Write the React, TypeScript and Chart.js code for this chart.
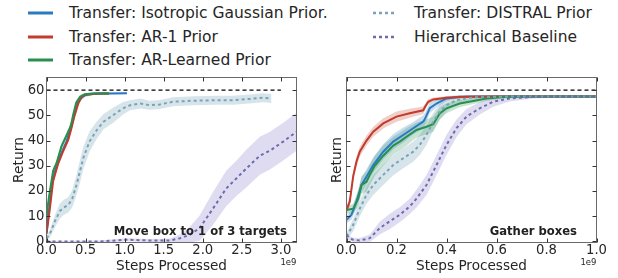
import React, { useEffect, useRef } from 'react';
import { Chart, registerables } from 'chart.js';

Chart.register(...registerables);

const FONT = 'DejaVu Sans';
const TEXT = '#262626';

// ---------- Series names ----------
const SERIES_NAMES = [
  'Transfer: Isotropic Gaussian Prior.',
  'Transfer: AR-1 Prior',
  'Transfer: AR-Learned Prior',
  'Transfer: DISTRAL Prior',
  'Hierarchical Baseline',
];
const TARGET_RETURN = 60;

// ---------- Left panel: Move box to 1 of 3 targets (steps in 1e9) ----------
const moveIsoX = [0, 0.034, 0.077, 0.128, 0.19, 0.256, 0.3, 0.34, 0.38, 0.43, 0.49, 0.6, 0.8, 1.03];
const moveIsoY = [3.3, 13, 24, 30, 35, 39.6, 44, 48.5, 53.5, 56.5, 58, 58.6, 58.7, 58.8];
const moveIsoSd = [1, 1.2, 1.2, 1.2, 1.2, 1.2, 1.2, 1.2, 1.2, 1, 0.8, 0.5, 0.4, 0.4];

const moveAr1X = [0, 0.013, 0.043, 0.085, 0.15, 0.21, 0.28, 0.32, 0.36, 0.41, 0.45, 0.51, 0.68, 0.8];
const moveAr1Y = [3, 6, 13, 24, 31, 35.6, 40.5, 45, 50, 55, 57.4, 58.3, 58.7, 58.7];
const moveAr1Sd = [1, 1.2, 1.2, 1.2, 1.2, 1.2, 1.2, 1.2, 1.2, 1, 0.8, 0.5, 0.4, 0.4];

const moveLrnX = [0, 0.02, 0.043, 0.085, 0.128, 0.19, 0.256, 0.3, 0.32, 0.34, 0.38, 0.43, 0.49, 0.6, 0.8];
const moveLrnY = [9, 15, 20, 28, 31, 37.6, 42, 45, 47, 50, 55, 57.4, 58.4, 58.7, 58.7];
const moveLrnSd = [1, 1.2, 1.2, 1.2, 1.2, 1.2, 1.2, 1.2, 1.2, 1.2, 1, 0.8, 0.5, 0.4, 0.4];

const moveDisX = [0, 0.043, 0.107, 0.17, 0.22, 0.28, 0.33, 0.38, 0.43, 0.47, 0.55, 0.64, 0.73, 0.85, 0.98, 1.07, 1.2, 1.32, 1.45, 1.62, 1.88, 2.18, 2.39, 2.6, 2.77, 2.88];
const moveDisY = [1.3, 3, 8, 12, 13.5, 14.5, 17, 22, 28, 33, 39.6, 44, 47.5, 50, 52.8, 54, 54.7, 54, 54.3, 55.4, 55.8, 56, 56, 56.5, 57, 56.7];
const moveDisSd = [1, 1.5, 2.5, 3, 3, 3, 3.5, 4, 4.5, 4.5, 4, 3.5, 3, 3, 2.5, 2, 2, 1.8, 1.8, 1.8, 1.8, 1.8, 1.8, 1.8, 1.8, 1.8];

const moveHieX = [0, 0.35, 0.68, 1.02, 1.32, 1.58, 1.71, 1.83, 1.96, 2.13, 2.3, 2.43, 2.56, 2.73, 2.86, 3.03, 3.2];
const moveHieY = [0, 0, 0, 0.7, 0.4, 0.4, 1.3, 2.6, 5.3, 13, 21, 25, 29, 34, 36, 39.6, 43.5];
const moveHieSd = [0.3, 0.3, 0.4, 0.6, 0.6, 0.8, 1.5, 3, 5, 6.5, 7, 7, 7.5, 7.5, 7.5, 7.5, 7.5];

// ---------- Right panel: Gather boxes (steps in 1e9) ----------
const gathIsoX = [0, 0.02, 0.04, 0.06, 0.08, 0.107, 0.147, 0.187, 0.227, 0.267, 0.307, 0.315, 0.333, 0.36, 0.4, 0.45, 0.6, 0.8, 1.0];
const gathIsoY = [8.6, 10.6, 15.8, 22.4, 25.7, 30.3, 35.6, 39.6, 42.2, 44.9, 47.5, 48.8, 52.8, 54.7, 56.7, 57.4, 57.5, 57.5, 57.5];
const gathIsoSd = [1.5, 2, 2.5, 3, 3, 3, 3, 3, 3, 2.5, 2.5, 2.5, 2, 1.5, 1, 0.6, 0.4, 0.3, 0.3];

const gathAr1X = [0, 0.013, 0.027, 0.04, 0.053, 0.08, 0.107, 0.147, 0.2, 0.253, 0.307, 0.315, 0.327, 0.347, 0.4, 0.48, 0.6, 0.8, 1.0];
const gathAr1Y = [12.5, 15.8, 26, 31.7, 35.6, 40, 43.5, 46.8, 49.5, 50.8, 52, 53.5, 55.4, 56.3, 57, 57.4, 57.5, 57.5, 57.5];
const gathAr1Sd = [1.5, 2, 2, 2, 2, 2, 2, 2, 2, 1.8, 1.5, 1.2, 1, 0.8, 0.6, 0.5, 0.4, 0.3, 0.3];

const gathLrnX = [0, 0.027, 0.047, 0.06, 0.08, 0.093, 0.113, 0.147, 0.187, 0.213, 0.24, 0.28, 0.32, 0.347, 0.373, 0.4, 0.453, 0.507, 0.56, 0.64, 0.8, 1.0];
const gathLrnY = [12.5, 13, 17, 22.4, 23.7, 26.4, 30, 34, 38, 39.6, 41.5, 44.2, 45.5, 46.5, 50.8, 52.8, 54.7, 55.7, 56.7, 57.4, 57.5, 57.5];
const gathLrnSd = [1.5, 2, 3, 3.5, 4, 4, 4, 4, 3.5, 3.5, 3.5, 3, 3, 3, 2.5, 2, 1.5, 1.2, 1, 0.6, 0.4, 0.3];

const gathDisX = [0, 0.027, 0.053, 0.08, 0.107, 0.147, 0.187, 0.227, 0.267, 0.293, 0.32, 0.347, 0.373, 0.4, 0.44, 0.507, 0.6, 0.8, 1.0];
const gathDisY = [2, 6.6, 13, 18.5, 22.4, 26.4, 30.3, 33, 35.6, 38.3, 42.2, 47.5, 51.5, 54, 56, 57.1, 57.4, 57.5, 57.5];
const gathDisSd = [1.5, 2.5, 3, 3.5, 4, 4, 4, 4, 4, 4, 4, 3.5, 3, 2.5, 1.5, 1, 0.6, 0.4, 0.3];

const gathHieX = [0, 0.013, 0.027, 0.053, 0.093, 0.133, 0.173, 0.213, 0.253, 0.28, 0.32, 0.36, 0.4, 0.44, 0.48, 0.533, 0.587, 0.653, 0.747, 0.85, 1.0];
const gathHieY = [2.6, 1.2, 0.7, 0.4, 1.3, 5.3, 8, 10.6, 13.9, 17, 22.4, 30.3, 38.3, 44.9, 49.5, 52.8, 55.4, 56.7, 57.3, 57.5, 57.5];
const gathHieSd = [1, 1, 0.8, 1, 1.5, 2.5, 3, 3, 3, 3.5, 4, 4, 4, 3.5, 3, 2.5, 2, 1.2, 0.6, 0.4, 0.3];

// ---------- Styles ----------
const LINE_COLORS = ['#2a7abf', '#c23b2b', '#27904f', '#7aa3b8', '#6c6cad'];
const BAND_COLORS = [
  'rgba(42,122,191,0.25)',
  'rgba(194,59,43,0.25)',
  'rgba(39,144,79,0.25)',
  'rgba(130,175,192,0.32)',
  'rgba(140,130,210,0.28)',
];
const DOTTED = [false, false, false, true, true];

type Pt = { x: number; y: number };
const pts = (xs: number[], ys: number[], off: number[] | null, sign: number): Pt[] =>
  xs.map((x, i) => ({ x, y: ys[i] + (off ? sign * off[i] : 0) }));

function buildDatasets(series: [number[], number[], number[]][], targetEnd: number) {
  const ds: any[] = [];
  ds.push({
    data: [{ x: 0, y: TARGET_RETURN }, { x: targetEnd, y: TARGET_RETURN }],
    borderColor: '#000',
    borderWidth: 1.2,
    borderDash: [4, 3],
    pointRadius: 0,
    fill: false,
    order: 0,
  });
  series.forEach(([xs, ys], i) => {
    ds.push({
      data: pts(xs, ys, null, 0),
      borderColor: LINE_COLORS[i],
      borderWidth: 2,
      borderDash: DOTTED[i] ? [3, 3] : undefined,
      pointRadius: 0,
      fill: false,
      tension: 0,
      order: 1 + (4 - i) * 0.1,
    });
  });
  series.forEach(([xs, ys, sd], i) => {
    ds.push({
      data: pts(xs, ys, sd, 1),
      borderWidth: 0,
      borderColor: 'rgba(0,0,0,0)',
      backgroundColor: BAND_COLORS[i],
      pointRadius: 0,
      fill: '+1',
      order: 10,
    });
    ds.push({
      data: pts(xs, ys, sd, -1),
      borderWidth: 0,
      borderColor: 'rgba(0,0,0,0)',
      pointRadius: 0,
      fill: false,
      order: 10,
    });
  });
  return ds;
}

const framePlugin = {
  id: 'frame',
  afterDatasetsDraw(chart: any, _args: any, opts: any) {
    const { ctx, chartArea: a, scales } = chart;
    ctx.save();
    ctx.strokeStyle = '#6a6a6a';
    ctx.lineWidth = 1;
    ctx.strokeRect(a.left, a.top, a.right - a.left, a.bottom - a.top);
    ctx.strokeStyle = '#333';
    const tl = 4;
    ctx.beginPath();
    scales.x.ticks.forEach((t: any) => {
      const px = Math.round(scales.x.getPixelForValue(t.value)) + 0.5;
      if (px < a.left - 1 || px > a.right + 1) return;
      ctx.moveTo(px, a.bottom);
      ctx.lineTo(px, a.bottom - tl);
      ctx.moveTo(px, a.top);
      ctx.lineTo(px, a.top + tl);
    });
    scales.y.ticks.forEach((t: any) => {
      const py = Math.round(scales.y.getPixelForValue(t.value)) + 0.5;
      if (py < a.top - 1 || py > a.bottom + 1) return;
      ctx.moveTo(a.left, py);
      ctx.lineTo(a.left + tl, py);
      ctx.moveTo(a.right, py);
      ctx.lineTo(a.right - tl, py);
    });
    ctx.stroke();
    ctx.fillStyle = '#222';
    ctx.font = `bold 11.6px "${FONT}"`;
    ctx.textAlign = 'right';
    ctx.textBaseline = 'middle';
    ctx.fillText(opts.label, a.right - opts.labelInset, a.bottom - 10.5);
    ctx.fillStyle = TEXT;
    ctx.font = `8.5px "${FONT}"`;
    ctx.fillText('1e9', a.right, a.bottom + 20.5);
    ctx.restore();
  },
};

function makeConfig(p: {
  series: [number[], number[], number[]][];
  xMax: number;
  xStep: number;
  targetEnd: number;
  yWidth: number;
  showYTicks: boolean;
  yTitlePad: number;
  padRight: number;
  label: string;
  labelInset: number;
}): any {
  return {
    type: 'line',
    data: { datasets: buildDatasets(p.series, p.targetEnd) },
    options: {
      animation: false,
      responsive: true,
      maintainAspectRatio: false,
      devicePixelRatio: 1,
      layout: { padding: { top: 77.5, right: p.padRight, left: 0, bottom: 0 } },
      plugins: {
        legend: { display: false },
        tooltip: { enabled: false },
        frame: { label: p.label, labelInset: p.labelInset },
      },
      scales: {
        x: {
          type: 'linear',
          min: 0,
          max: p.xMax,
          afterFit: (s: any) => {
            s.height = 35.5;
          },
          grid: { display: false, drawTicks: false },
          border: { display: false },
          ticks: {
            stepSize: p.xStep,
            includeBounds: false,
            autoSkip: false,
            maxRotation: 0,
            padding: 0,
            color: TEXT,
            font: { family: FONT, size: 13.2 },
            callback: (v: any) => Number(v).toFixed(1),
          },
          title: {
            display: true,
            text: 'Steps Processed',
            color: TEXT,
            font: { family: FONT, size: 13.6 },
            padding: { top: 0, bottom: 3 },
          },
        },
        y: {
          type: 'linear',
          min: -0.4,
          max: 65,
          afterFit: (s: any) => {
            s.width = p.yWidth;
          },
          grid: { display: false, drawTicks: false },
          border: { display: false },
          ticks: {
            display: p.showYTicks,
            stepSize: 10,
            includeBounds: false,
            padding: 2,
            color: TEXT,
            font: { family: FONT, size: 13.2 },
          },
          title: {
            display: true,
            text: 'Return',
            color: TEXT,
            font: { family: FONT, size: 13.8 },
            padding: { top: p.yTitlePad, bottom: 0 },
          },
        },
      },
    },
    plugins: [framePlugin],
  };
}

function Panel(props: { cfg: any; left: number; width: number }) {
  const ref = useRef<HTMLCanvasElement | null>(null);
  useEffect(() => {
    if (!ref.current) return;
    const chart = new Chart(ref.current, props.cfg);
    return () => chart.destroy();
  }, []);
  return (
    <div style={{ position: 'absolute', left: props.left, top: 0, width: props.width, height: 278 }}>
      <canvas ref={ref} />
    </div>
  );
}

const leftCfg = makeConfig({
  series: [
    [moveIsoX, moveIsoY, moveIsoSd],
    [moveAr1X, moveAr1Y, moveAr1Sd],
    [moveLrnX, moveLrnY, moveLrnSd],
    [moveDisX, moveDisY, moveDisSd],
    [moveHieX, moveHieY, moveHieSd],
  ],
  xMax: 3.2,
  xStep: 0.5,
  targetEnd: 3.0,
  yWidth: 46.5,
  showYTicks: true,
  yTitlePad: 11.2,
  padRight: 13.5,
  label: 'Move box to 1 of 3 targets',
  labelInset: 9.5,
});

const rightCfg = makeConfig({
  series: [
    [gathIsoX, gathIsoY, gathIsoSd],
    [gathAr1X, gathAr1Y, gathAr1Sd],
    [gathLrnX, gathLrnY, gathLrnSd],
    [gathDisX, gathDisY, gathDisSd],
    [gathHieX, gathHieY, gathHieSd],
  ],
  xMax: 1.0,
  xStep: 0.2,
  targetEnd: 1.0,
  yWidth: 36.5,
  showYTicks: false,
  yTitlePad: 19.2,
  padRight: 21.5,
  label: 'Gather boxes',
  labelInset: 19.5,
});

const LEGEND_POS = [
  { col: 0, cy: 13.3 },
  { col: 0, cy: 36.5 },
  { col: 0, cy: 60 },
  { col: 1, cy: 13.3 },
  { col: 1, cy: 36.5 },
];

function Legend() {
  return (
    <>
      {SERIES_NAMES.map((name, i) => {
        const { col, cy } = LEGEND_POS[i];
        const mx = col === 0 ? 28 : 373;
        const tx = col === 0 ? 69 : 414;
        return (
          <React.Fragment key={name}>
            <svg width={26} height={6} style={{ position: 'absolute', left: mx, top: cy - 3 }}>
              <line
                x1={0}
                y1={3}
                x2={DOTTED[i] ? 21 : 25}
                y2={3}
                stroke={LINE_COLORS[i]}
                strokeWidth={DOTTED[i] ? 2.5 : 3}
                strokeDasharray={DOTTED[i] ? '3 3' : undefined}
              />
            </svg>
            <span
              style={{
                position: 'absolute',
                left: tx,
                top: cy - 8.9,
                fontFamily: FONT,
                fontSize: 15.5,
                lineHeight: '18px',
                color: TEXT,
                whiteSpace: 'nowrap',
              }}
            >
              {name}
            </span>
          </React.Fragment>
        );
      })}
    </>
  );
}

export default function App() {
  return (
    <div
      style={{
        position: 'fixed',
        left: 0,
        top: 0,
        width: 618,
        height: 278,
        background: '#fff',
        overflow: 'hidden',
      }}
    >
      <Legend />
      <Panel cfg={leftCfg} left={0} width={310} />
      <Panel cfg={rightCfg} left={310} width={308} />
    </div>
  );
}
